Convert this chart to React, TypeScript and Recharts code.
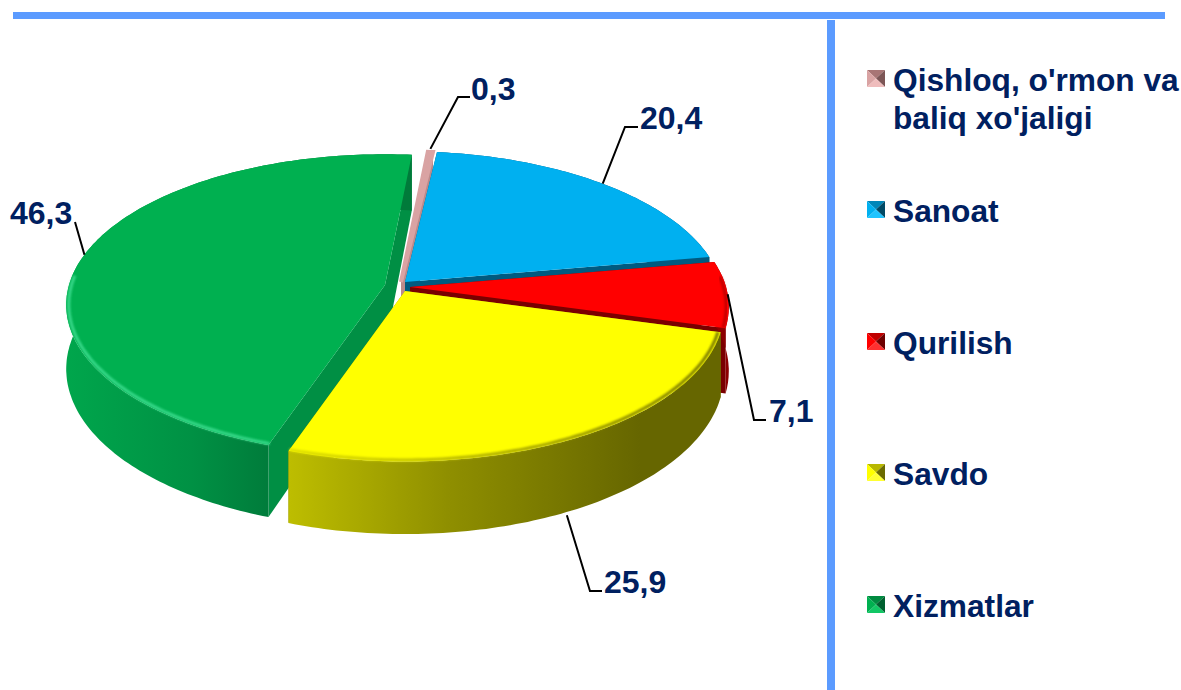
import { Legend, Pie, PieChart } from 'recharts';

const categories = ["Qishloq, o'rmon va baliq xo'jaligi", 'Sanoat', 'Qurilish', 'Savdo', 'Xizmatlar'];
const shares = [0.3, 20.4, 7.1, 25.9, 46.3];

const rows = categories.map((name, i) => ({ name, value: shares[i] }));
// green goes first for the side walls so the yellow wall paints over its cut face
const wallRows = [rows[4], ...rows.slice(0, 4)];

const W = 1181;
const H = 690;
const NAVY = '#002060';
const BAR = '#5b9bff';
const FONT = '"Liberation Sans", Arial, sans-serif';

// fake 3d: projection of the flat disc
const CX = 400;
const CY = 287;
const RX = 316;
const RY = 148;
const PERSP = 0.132;
const DEPTH = 63;
const START = 84.5;
const GREEN_START = START - (100 - shares[4]) * 3.6;

const looks = [
  { top: '#d9a3a3', cut: '#bd8a8a', wall: '#bd8a8a', rim: '', edge: 4, dx: 1, dy: -5, light: '#efbcbc', dark: '#7d5656', mid: '#a87575' },
  { top: '#00b0f0', cut: '#005a80', wall: '#005a80', rim: '', edge: 0, dx: 5, dy: -5, light: '#1fc4ff', dark: '#014a66', mid: '#0086b8' },
  { top: '#ff0000', cut: '#7a0000', wall: '#8c0000', rim: '#c00000', edge: 0, dx: 10, dy: 0, light: '#ff3030', dark: '#6e0000', mid: '#c00000' },
  { top: '#ffff00', cut: '#8a8a00', wall: 'url(#yellowWall)', rim: 'url(#yellowRim)', edge: 0, dx: 5, dy: 4, light: '#ffff33', dark: '#6b6b00', mid: '#b8b800' },
  { top: '#00b050', cut: '#008f44', wall: 'url(#greenWall)', rim: '#38d98a', edge: 0, dx: -15, dy: -2, light: '#12c765', dark: '#00602f', mid: '#008a40' },
];

const labelSpots = [
  { elbow: [458, 97], end: [470, 97], text: [471, 88], nudge: [0, -3] },
  { elbow: [625, 127], end: [638, 127], text: [640, 117], nudge: [0, 0] },
  { elbow: [754, 420], end: [766, 420], text: [769, 410], nudge: [0, 0] },
  { elbow: [590, 591], end: [602, 591], text: [604, 581], nudge: [-5, 76] },
  { elbow: [75, 222], end: [75, 222], text: [10, 212], nudge: [0, 0] },
];

const legendTops = [61, 192, 324, 455, 587];

const lookOf = (name: string) => looks[categories.indexOf(name)];

// angle in recharts degrees -> point on the slanted disc, r is 0..1
function project(angle: number, r: number, cx: number, cy: number, radius: number) {
  const t = (angle * Math.PI) / 180;
  const x = Math.cos(t) * r;
  const y = Math.sin(t) * r;
  const w = 1 + PERSP * y;
  return { x: cx + (radius * x) / w, y: cy - ((radius * RY) / RX * y) / w, w };
}

function rimPoints(from: number, to: number, cx: number, cy: number, radius: number, r = 1) {
  const pts = [];
  const steps = Math.max(2, Math.ceil(Math.abs(from - to)));
  for (let i = 0; i <= steps; i++) {
    pts.push(project(from + ((to - from) * i) / steps, r, cx, cy, radius));
  }
  return pts;
}

const toPath = (pts: { x: number; y: number }[]) =>
  'M' + pts.map((p) => `${p.x.toFixed(1)},${p.y.toFixed(1)}`).join('L') + 'Z';

function SliceWall(props: any) {
  const look = lookOf(props.name);
  const cx = props.cx + look.dx;
  const cy = props.cy + look.dy;
  const rim = rimPoints(props.startAngle, props.endAngle, cx, cy, props.outerRadius);
  const apex = { x: cx, y: cy };
  const down = (p: { x: number; y: number; w?: number }) => ({ x: p.x, y: p.y + DEPTH / (p.w ?? 1) });
  const first = rim[0];
  const last = rim[rim.length - 1];
  return (
    <g>
      <path d={toPath([apex, first, down(first), down(apex)])} fill={look.cut} />
      <path d={toPath([apex, last, down(last), down(apex)])} fill={look.cut} />
      <path d={toPath([...rim, ...rim.map(down).reverse()])} fill={look.wall} />
    </g>
  );
}

function SliceTop(props: any) {
  const look = lookOf(props.name);
  const cx = props.cx + look.dx;
  const cy = props.cy + look.dy;
  const rim = rimPoints(props.startAngle, props.endAngle, cx, cy, props.outerRadius);
  const front = rimPoints(props.startAngle, props.endAngle, cx, cy, props.outerRadius, 0.992).filter((p) => p.w < 1.01);
  return (
    <g>
      <path
        d={toPath([{ x: cx, y: cy }, ...rim])}
        fill={look.top}
        stroke={look.edge ? look.top : 'none'}
        strokeWidth={look.edge}
      />
      {look.rim && front.length > 1 && (
        <path
          d={'M' + front.map((p) => `${p.x.toFixed(1)},${p.y.toFixed(1)}`).join('L')}
          fill="none"
          stroke={look.rim}
          strokeWidth={3}
          filter="url(#rimBlur)"
        />
      )}
    </g>
  );
}

function SliceLabel(props: any) {
  const i = categories.indexOf(props.name);
  const look = looks[i];
  const spot = labelSpots[i];
  const from = project(props.midAngle, 1, props.cx + look.dx, props.cy + look.dy, props.outerRadius);
  const line = [[from.x + spot.nudge[0], from.y + spot.nudge[1]], spot.elbow, spot.end];
  return (
    <g>
      <polyline points={line.map((p) => p.join(',')).join(' ')} fill="none" stroke="#000" strokeWidth={2} />
      <text
        x={spot.text[0]}
        y={spot.text[1]}
        dy="0.36em"
        fill={NAVY}
        fontFamily={FONT}
        fontWeight="bold"
        fontSize={32}
      >
        {String(props.value).replace('.', ',')}
      </text>
    </g>
  );
}

function Marker({ look }: { look: (typeof looks)[number] }) {
  return (
    <svg width={18} height={17} style={{ position: 'absolute', left: 0, top: 9 }}>
      <polygon points="0,0 18,0 9,8.5" fill={look.mid} />
      <polygon points="18,0 18,17 9,8.5" fill={look.dark} />
      <polygon points="0,0 9,8.5 0,17" fill={look.top} />
      <polygon points="0,17 18,17 9,8.5" fill={look.light} />
    </svg>
  );
}

function LegendList() {
  return (
    <div style={{ position: 'relative', width: 320, height: 590 }}>
      {categories.map((name, i) => (
        <div
          key={name}
          style={{
            position: 'absolute',
            left: 0,
            top: legendTops[i] - 61,
            width: 320,
            paddingLeft: 26,
            boxSizing: 'border-box',
            color: NAVY,
            fontFamily: FONT,
            fontWeight: 'bold',
            fontSize: 31.7,
            lineHeight: '38px',
          }}
        >
          <Marker look={looks[i]} />
          {name}
        </div>
      ))}
    </div>
  );
}

export default function App() {
  return (
    <div style={{ position: 'absolute', left: 0, top: 0, width: W, height: H, overflow: 'hidden', background: '#fff' }}>
      <div style={{ position: 'absolute', left: 13, top: 12, width: 1152, height: 7, background: BAR }} />
      <div style={{ position: 'absolute', left: 827, top: 20, width: 8, height: 670, background: BAR }} />
      <PieChart
        width={W}
        height={H}
        margin={{ top: 0, right: 0, bottom: 0, left: 0 }}
        style={{ position: 'absolute', left: 0, top: 0 }}
      >
        <defs>
          <linearGradient id="yellowWall" gradientUnits="userSpaceOnUse" x1={290} y1={0} x2={640} y2={0}>
            <stop offset="0" stopColor="#bdbd00" />
            <stop offset="0.45" stopColor="#8f8f00" />
            <stop offset="1" stopColor="#666600" />
          </linearGradient>
          <linearGradient id="yellowRim" gradientUnits="userSpaceOnUse" x1={290} y1={0} x2={720} y2={0}>
            <stop offset="0" stopColor="#e0e000" />
            <stop offset="1" stopColor="#7a7a00" />
          </linearGradient>
          <linearGradient id="greenWall" gradientUnits="userSpaceOnUse" x1={66} y1={0} x2={275} y2={0}>
            <stop offset="0" stopColor="#00a64c" />
            <stop offset="0.6" stopColor="#009144" />
            <stop offset="1" stopColor="#007a3a" />
          </linearGradient>
          <filter id="rimBlur" x="-5%" y="-5%" width="110%" height="110%">
            <feGaussianBlur stdDeviation="1.1" />
          </filter>
        </defs>
        <Pie
          data={wallRows}
          dataKey="value"
          nameKey="name"
          cx={CX}
          cy={CY}
          outerRadius={RX}
          startAngle={GREEN_START}
          endAngle={GREEN_START - 360}
          stroke="none"
          legendType="none"
          isAnimationActive={false}
          shape={(p: any) => <SliceWall {...p} />}
        />
        <Pie
          data={rows}
          dataKey="value"
          nameKey="name"
          cx={CX}
          cy={CY}
          outerRadius={RX}
          startAngle={START}
          endAngle={START - 360}
          stroke="none"
          isAnimationActive={false}
          shape={(p: any) => <SliceTop {...p} />}
          label={(p: any) => <SliceLabel {...p} />}
          labelLine={false}
        />
        <Legend
          layout="vertical"
          content={() => <LegendList />}
          wrapperStyle={{ position: 'absolute', left: 867, top: 61, width: 320, height: 590 }}
        />
      </PieChart>
    </div>
  );
}
